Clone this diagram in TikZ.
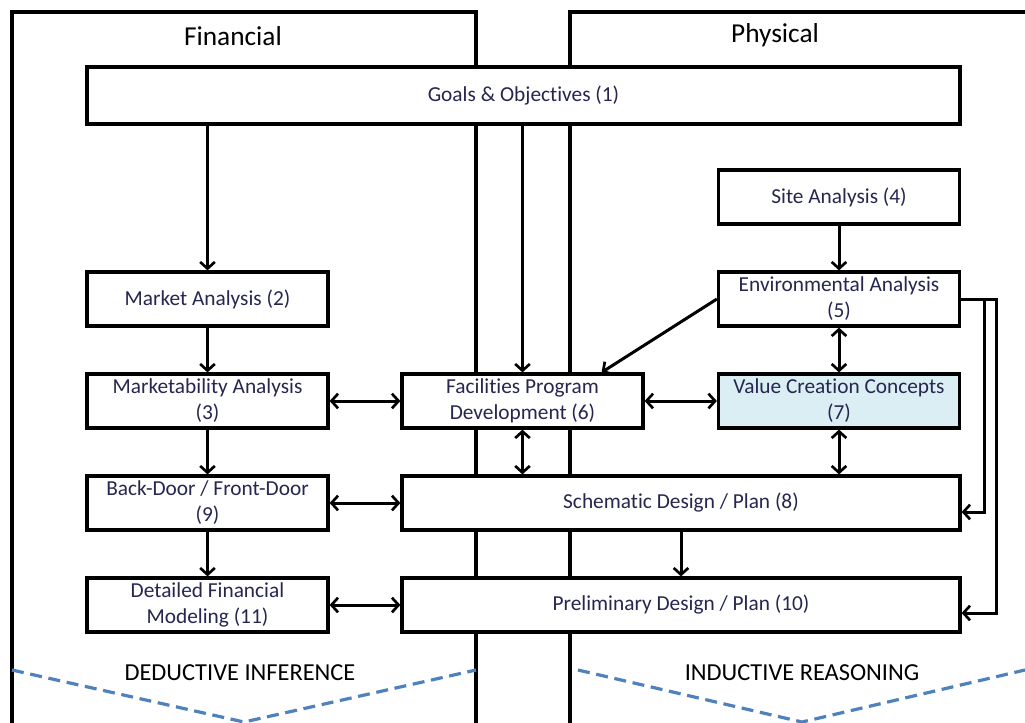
\documentclass[tikz,border=0pt]{standalone}
\usepackage{fontspec}
\setmainfont{Carlito}[Ligatures={NoCommon}]
\usetikzlibrary{arrows.meta,calc}
\definecolor{boxtext}{RGB}{38,38,80}
\definecolor{valfill}{RGB}{218,238,243}
\definecolor{dashblue}{RGB}{79,129,189}
\tikzset{
  box/.style={draw, line width=2.4pt, fill=white, align=center, inner sep=0pt,
    text=boxtext, font=\fontsize{16}{19.5}\selectfont, minimum height=40.5pt},
  narrow/.style={minimum width=180.75pt},
  wide/.style={minimum width=418.5pt},
  arr/.style={line width=2.25pt, -{Straight Barb[length=5pt,width=11pt,line width=2pt]}},
  darr/.style={line width=2.25pt, {Straight Barb[length=5pt,width=11pt,line width=2pt]}-{Straight Barb[length=5pt,width=11pt,line width=2pt]}},
  frame/.style={line width=2.4pt},
  dashline/.style={line width=2.4pt, dashed, dash pattern=on 9pt off 5pt, dashblue},
  title/.style={font=\fontsize{20.5}{24}\selectfont, text=black},
  foot/.style={font=\fontsize{18.3}{22}\selectfont, text=black}
}
\begin{document}
\begin{tikzpicture}[x=0.75pt,y=-0.75pt]
\useasboundingbox (0,0) rectangle (1025,722);
\clip (0,0) rectangle (1025,722);
% frames
\draw[frame] (12,740) -- (12,12) -- (476,12) -- (476,740);
\draw[frame] (570,740) -- (570,12) -- (1040,12);
\node[title] (fin) at (233,36) {Financial};
\node[title] (phy) at (775,35) {Physical};
% dashed V lines
\draw[dashline] (12,670) -- (244,722) -- (476,670);
\draw[dashline] (578,670) -- (802,722) -- (1025,670);
\node[foot] (ded) at (240,673) {DEDUCTIVE INFERENCE};
\node[foot] (ind) at (802,673) {INDUCTIVE REASONING};
% boxes
\node[box, minimum width=654.75pt, minimum height=42.75pt] (goals) at (523.5,95.5) {Goals \& Objectives (1)};
\node[box, narrow] (site) at (839,197) {Site Analysis (4)};
\node[box, narrow] (market) at (207.5,299) {Market Analysis (2)};
\node[box, narrow] (env) at (839,299) {Environmental Analysis\\(5)};
\node[box, narrow] (mkt) at (207.5,401) {Marketability Analysis\\(3)};
\node[box, narrow] (fac) at (522.5,401) {Facilities Program\\Development (6)};
\node[box, narrow, fill=valfill] (val) at (839,401) {Value Creation Concepts\\(7)};
\node[box, narrow] (back) at (207.5,503) {Back-Door / Front-Door\\(9)};
\node[box, wide] (sch) at (681,503) {Schematic Design / Plan (8)};
\node[box, narrow] (det) at (207.5,605) {Detailed Financial\\Modeling (11)};
\node[box, wide] (pre) at (681,605) {Preliminary Design / Plan (10)};
% arrows
\draw[arr] (goals.south -| market.north) -- (market.north);
\draw[arr] (goals.south -| fac.north) -- (fac.north);
\draw[arr] (site.south) -- (env.north);
\draw[arr] (market.south) -- (mkt.north);
\draw[arr] (mkt.south) -- (back.north);
\draw[arr] (back.south) -- (det.north);
\draw[darr] (mkt.east) -- (fac.west);
\draw[darr] (fac.east) -- (val.west);
\draw[darr] (env.south) -- (val.north);
\draw[darr] (val.south) -- (val.south |- sch.north);
\draw[darr] (fac.south) -- (fac.south |- sch.north);
\draw[darr] (back.east) -- (sch.west);
\draw[darr] (det.east) -- (pre.west);
\draw[arr] (sch.south) -- (pre.north);
\draw[arr] (env.west) -- ($(fac.north east)+(-43,0)$);
\draw[arr] (env.east) -| ($(sch.east)+(23,9)$) -- ($(sch.east)+(0,9)$);
\draw[arr] (env.east) -| ($(pre.east)+(35,8)$) -- ($(pre.east)+(0,8)$);
\end{tikzpicture}
\end{document}
